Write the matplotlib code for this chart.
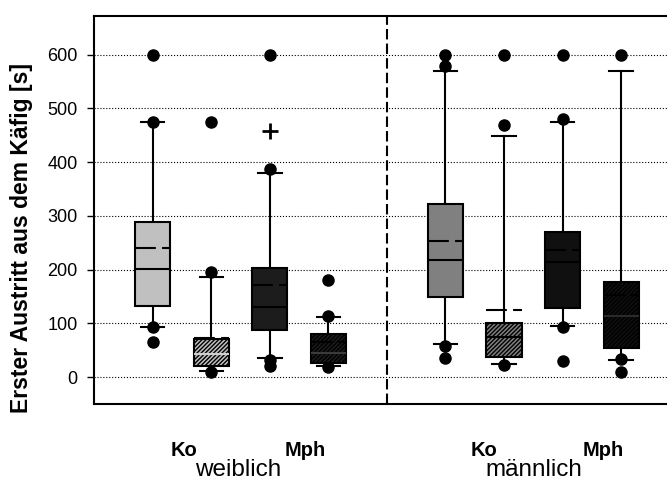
import matplotlib
matplotlib.use("Agg")
import matplotlib.pyplot as plt

plt.rcParams['font.family'] = ['Liberation Sans', 'DejaVu Sans']
plt.rcParams['hatch.linewidth'] = 1.0

# Box statistics (seconds), order: weiblich Ko.. / männlich ..
positions = [1, 2, 3, 4, 6, 7, 8, 9]
whislo = [94, 12, 35, 20, 61, 25, 95, 32]
q1 = [132, 20, 87, 27, 149, 38, 129, 54]
med = [202, 43, 130, 45, 217, 74, 215, 113]
mean = [240, 72, 172, 66, 253, 125, 237, 153]
q3 = [289, 70, 203, 80, 322, 100, 269, 177]
whishi = [475, 186, 380, 112, 569, 449, 475, 569]
fliers = [
    [600, 475, 94, 65],
    [475, 196, 9],
    [600, 388, 32, 21],
    [180, 113, 18],
    [600, 579, 57, 35],
    [600, 468, 22],
    [600, 480, 93, 30],
    [600, 33, 9],
]
extreme_x = [3]
extreme_y = [458]

face_colors = ['#c0c0c0', '#c0c0c0', '#1c1c1c', '#1c1c1c',
               '#808080', '#808080', '#101010', '#101010']
hatches = [None, '////////', None, '////////', None, '////////', None, '////////']
median_colors = ['black', '#d0d0d0', 'black', '#3a3a3a',
                 'black', 'black', 'black', '#2a2a2a']

yticks = [0, 100, 200, 300, 400, 500, 600]

fig = plt.figure(figsize=(6.67, 4.82), dpi=100)
ax = fig.add_axes([0.1412, 0.1618, 0.8777, 0.8054])

stats = []
for i in range(len(positions)):
    stats.append(dict(med=med[i], q1=q1[i], q3=q3[i], whislo=whislo[i],
                      whishi=whishi[i], mean=mean[i], fliers=fliers[i]))

bp = ax.bxp(stats, positions=positions, widths=0.6, capwidths=0.4,
            patch_artist=True, showmeans=True, meanline=True, showfliers=True,
            boxprops=dict(linewidth=1.5, edgecolor='black'),
            whiskerprops=dict(linewidth=1.5, color='black'),
            capprops=dict(linewidth=1.5, color='black'),
            medianprops=dict(linewidth=1.5, color='black'),
            meanprops=dict(linewidth=1.5, color='black', linestyle=(0, (10, 3))),
            flierprops=dict(marker='o', markerfacecolor='black',
                            markeredgecolor='black', markersize=8))

for i, box in enumerate(bp['boxes']):
    box.set_facecolor(face_colors[i])
    if hatches[i]:
        box.set_hatch(hatches[i])
    box.set_zorder(3)
for i, m in enumerate(bp['medians']):
    m.set_color(median_colors[i])
    m.set_zorder(4)
for m in bp['means']:
    m.set_zorder(4)

ax.plot(extreme_x, extreme_y, marker='+', color='black', markersize=11,
        markeredgewidth=2, linestyle='none', zorder=5)

# separator between the sexes
ax.axvline(5, color='black', lw=1.5, linestyle=(0, (5, 2)), zorder=2)

ax.set_xlim(0, 10)
ax.set_ylim(-50, 672)
ax.set_yticks(yticks)
ax.set_xticks([])
ax.tick_params(axis='y', labelsize=13, length=5, width=1, pad=7)
ax.yaxis.grid(True, linestyle=':', color='black', linewidth=0.8)
ax.set_axisbelow(True)
for s in ax.spines.values():
    s.set_linewidth(1.5)

ax.set_ylabel('Erster Austritt aus dem Käfig [s]', fontsize=16.5,
              fontweight='bold')
ax.yaxis.set_label_coords(-0.105, 0.428)

group_labels = ['Ko', 'Mph', 'Ko', 'Mph']
group_x = [1.53, 3.60, 6.66, 8.69]
sex_labels = ['weiblich', 'männlich']
sex_x = [2.46, 7.51]
for lbl, x in zip(group_labels, group_x):
    ax.text(x, -136, lbl, ha='center', va='center', fontsize=14.5,
            fontweight='bold', clip_on=False)
for lbl, x in zip(sex_labels, sex_x):
    ax.text(x, -173, lbl, ha='center', va='center', fontsize=17.5,
            clip_on=False)

fig.savefig('out.png', dpi=100)
